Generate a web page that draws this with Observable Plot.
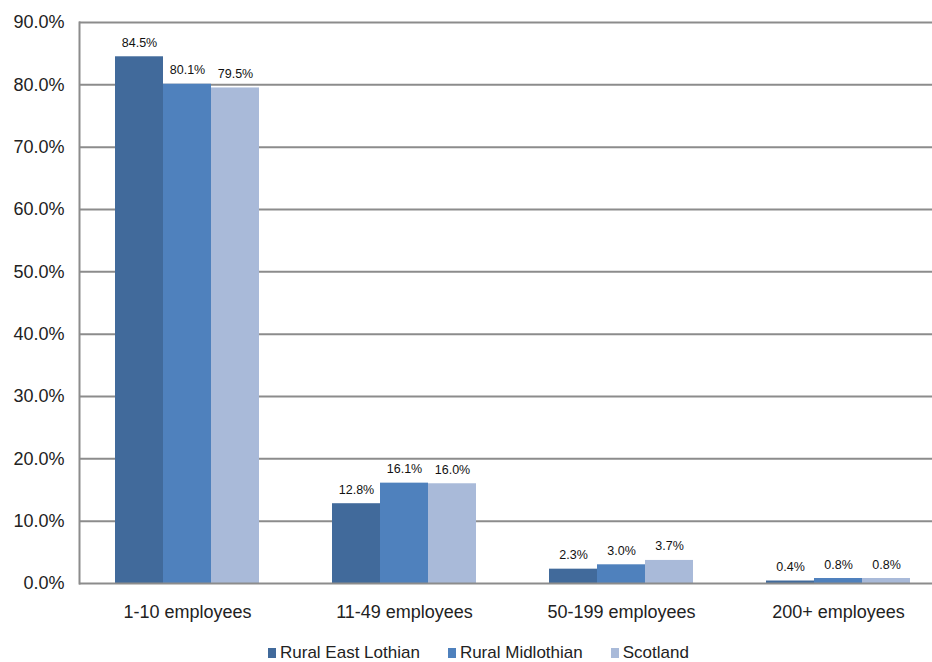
<!DOCTYPE html>
<html>
<head>
<meta charset="utf-8">
<script src="https://cdn.jsdelivr.net/npm/d3@7"></script>
<script src="https://cdn.jsdelivr.net/npm/@observablehq/plot@0.6"></script>
<style>
  html, body { margin: 0; padding: 0; background: #fff; overflow: hidden; }
  #chart svg { display: block; }
  .legend { display: flex; align-items: center; height: 18px; margin-top: 4px; margin-left: 268px;
    font-family: "Liberation Sans", Arial, sans-serif; font-size: 17px; line-height: 18px; color: #222; }
  .legend .item { display: flex; align-items: center; margin-right: 28px; }
  .legend .sw { width: 8px; height: 10px; margin-right: 4px; }
</style>
</head>
<body>
<div id="chart"></div>
<div class="legend" id="legend"></div>
<script>
const groups = ["1-10 employees", "11-49 employees", "50-199 employees", "200+ employees"];
const series = ["Rural East Lothian", "Rural Midlothian", "Scotland"];
const eastLothian = [84.5, 12.8, 2.3, 0.4];
const midlothian = [80.1, 16.1, 3.0, 0.8];
const scotland = [79.5, 16.0, 3.7, 0.8];
const colors = ["#416a9b", "#4f81bd", "#a9bad9"];
const yTicks = [0, 10, 20, 30, 40, 50, 60, 70, 80, 90];

const seriesValues = [eastLothian, midlothian, scotland];
const rows = [];
series.forEach((s, i) => groups.forEach((g, j) => rows.push({series: s, si: i, group: g, value: seriesValues[i][j]})));

const barW = 48;
const marks = [
  Plot.ruleY(yTicks.filter(d => d > 0), {stroke: "#8c8c8c", strokeWidth: 2}),
];
series.forEach((s, i) => {
  const data = rows.filter(r => r.si === i);
  marks.push(Plot.barY(data, {x: "group", y: "value", fill: colors[i],
    insetLeft: i * barW, insetRight: (2 - i) * barW}));
  marks.push(Plot.text(data, {x: "group", y: "value", text: d => d.value.toFixed(1) + "%",
    dx: (i - 1) * barW, dy: -14, fontSize: 12.5, fill: "#111"}));
});
marks.push(Plot.ruleY([0], {stroke: "#8c8c8c", strokeWidth: 2}));
marks.push(Plot.frame({anchor: "left", stroke: "#8c8c8c", strokeWidth: 2}));
marks.push(Plot.axisY({ticks: yTicks, tickFormat: d => d.toFixed(1) + "%", tickSize: 0, tickPadding: 15, fontSize: 18, label: null}));
marks.push(Plot.axisX({tickSize: 0, tickPadding: 22, fontSize: 18, label: null}));

const chart = Plot.plot({
  width: 932,
  height: 640,
  marginLeft: 79,
  marginRight: -15,
  marginTop: 22,
  marginBottom: 57,
  style: {fontFamily: "'Liberation Sans', Arial, sans-serif", color: "#222", background: "#fff", overflow: "hidden"},
  x: {domain: groups, paddingInner: 0.336, paddingOuter: 0.168, label: null},
  y: {domain: [0, 90], label: null},
  marks
});
document.getElementById("chart").appendChild(chart);

const legend = document.getElementById("legend");
series.forEach((s, i) => {
  const item = document.createElement("div");
  item.className = "item";
  const sw = document.createElement("div");
  sw.className = "sw";
  sw.style.background = colors[i];
  const t = document.createElement("span");
  t.textContent = s;
  item.appendChild(sw);
  item.appendChild(t);
  legend.appendChild(item);
});
</script>
</body>
</html>
